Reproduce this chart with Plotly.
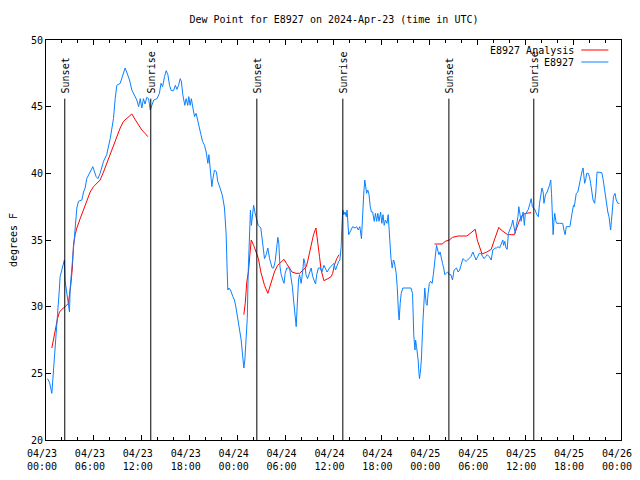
import pandas as pd
import plotly.graph_objects as go

START = pd.Timestamp("2024-04-23 00:00")

# Observed dew point (E8927): hours since start, degrees F
obs_hours = [
    0.19, 0.45, 0.73, 0.94, 1.15, 1.44, 1.65, 1.77, 1.98, 2.19, 2.3, 2.4, 2.6, 2.8, 2.94,
    3.03, 3.23, 3.44, 3.65, 3.86, 4.07, 4.49, 4.7, 4.9, 5.1, 5.5, 5.86, 6.0, 6.28, 6.5,
    6.78, 7.2, 7.6, 8.04, 8.45, 8.66, 8.87, 9.29, 9.62, 9.91, 10.1, 10.46, 10.75, 11.0,
    11.37, 11.6, 11.8, 12.0, 12.2, 12.4, 12.62, 12.85, 13.05, 13.25, 13.5, 13.9, 14.2,
    14.4, 14.6, 14.84, 15.05, 15.26, 15.47, 15.68, 15.97, 16.2, 16.4, 16.6, 16.8, 16.95,
    17.13, 17.38, 17.55, 17.75, 17.88, 18.05, 18.2, 18.4, 18.6, 18.8, 19.0, 19.2, 19.4,
    19.6, 19.85, 20.06, 20.27, 20.4, 20.5, 20.77, 20.9, 21.1, 21.35, 21.5, 21.8, 22.1,
    22.35, 22.56, 22.69, 22.77, 22.9, 23.1, 23.4, 23.6, 23.8, 24.0, 24.2, 24.44, 24.65,
    24.77, 24.9, 25.07, 25.2, 25.32, 25.48, 25.6, 25.72, 25.9, 26.0, 26.15, 26.3, 26.57,
    26.9, 27.15, 27.36, 27.57, 27.78, 28.0, 28.32, 28.5, 28.7, 29.03, 29.15, 29.3, 29.45,
    29.65, 29.8, 29.95, 30.15, 30.5, 30.7, 30.85, 31.0, 31.12, 31.24, 31.33, 31.45, 31.62,
    31.75, 31.95, 32.16, 32.28, 32.42, 32.55, 32.75, 33.0, 33.2, 33.4, 33.6, 33.75, 33.9,
    34.1, 34.35, 34.55, 34.8, 34.95, 35.2, 35.5, 35.8, 36.05, 36.25, 36.45, 36.65, 36.8,
    36.96, 37.05, 37.17, 37.3, 37.45, 37.6, 37.7, 37.9, 38.15, 38.4, 38.7, 38.9, 39.1,
    39.3, 39.5, 39.6, 39.67, 39.8, 39.92, 40.05, 40.15, 40.3, 40.45, 40.6, 40.75, 40.9,
    41.1, 41.25, 41.4, 41.55, 41.7, 41.9, 42.05, 42.2, 42.35, 42.5, 42.7, 42.85, 42.95,
    43.05, 43.2, 43.35, 43.5, 43.6, 43.85, 43.98, 44.14, 44.22, 44.35, 44.48, 44.68, 45.3,
    45.7, 45.9, 46.05, 46.2, 46.28, 46.4, 46.6, 46.7, 46.77, 46.9, 47.0, 47.2, 47.3, 47.43,
    47.6, 47.72, 47.85, 48.0, 48.15, 48.35, 48.5, 48.65, 48.8, 48.9, 49.05, 49.2, 49.35,
    49.5, 49.65, 49.8, 49.93, 50.1, 50.3, 50.5, 50.7, 50.9, 51.1, 51.4, 51.6, 51.8, 52.0,
    52.2, 52.4, 52.6, 52.8, 52.95, 53.2, 53.45, 53.65, 53.85, 54.05, 54.25, 54.45, 54.65,
    54.85, 55.05, 55.25, 55.5, 55.75, 55.95, 56.2, 56.4, 56.6, 56.8, 57.0, 57.2, 57.3,
    57.45, 57.6, 57.75, 57.9, 58.1, 58.3, 58.45, 58.6, 58.75, 58.9, 59.1, 59.2, 59.35,
    59.5, 59.6, 59.75, 59.9, 60.0, 60.2, 60.4, 60.6, 60.75, 60.9, 61.05, 61.25, 61.45,
    61.65, 61.8, 61.95, 62.1, 62.25, 62.35, 62.55, 62.75, 63.05, 63.2, 63.3, 63.4, 63.5,
    63.6, 63.7, 63.85, 63.95, 64.3, 64.7, 64.85, 65.0, 65.15, 65.4, 65.6, 65.9, 66.05,
    66.15, 66.25, 66.4, 66.6, 66.8, 67.0, 67.1, 67.25, 67.35, 67.45, 67.6, 67.7, 67.9,
    68.05, 68.2, 68.4, 68.5, 68.7, 68.85, 69.0, 69.3, 69.6, 69.75, 69.9, 70.0, 70.15,
    70.35, 70.5, 70.7, 70.8, 70.95, 71.06, 71.25, 71.4, 71.6, 71.8,
]
obs_dewpoint = [
    24.6, 24.3, 23.5, 25.5, 27.1, 29.4, 31.1, 32.25, 32.75, 33.4, 33.5, 31.9, 30.9, 30.25, 29.6,
    31.4, 32.9, 34.6, 35.9, 37.4, 37.9, 38.0, 38.6, 38.9, 39.6, 40.1, 40.5, 40.25, 39.75, 39.6,
    40.0, 40.9, 41.4, 42.6, 44.1, 45.6, 46.6, 46.75, 47.4, 47.9, 47.6, 47.0, 46.25, 45.9,
    45.5, 45.0, 45.6, 44.9, 45.6, 45.2, 45.7, 45.6, 44.75, 45.1, 45.5, 45.6, 46.0,
    46.75, 46.5, 47.25, 47.7, 47.4, 46.6, 46.2, 46.2, 46.6, 46.3, 46.6, 47.1, 46.9,
    45.9, 45.1, 45.6, 45.1, 45.75, 45.1, 45.6, 44.9, 44.25, 44.5, 43.9, 43.4, 42.9,
    42.4, 42.1, 41.6, 40.75, 41.4, 40.6, 39.0, 39.6, 40.25, 40.1, 39.4, 38.9, 38.3,
    37.4, 35.4, 32.6, 31.25, 31.4, 31.25, 30.75, 30.5, 29.9, 29.0, 28.4, 27.5, 26.1,
    25.4, 26.0, 27.5, 29.1, 32.6, 35.9, 37.25, 36.1, 37.1, 37.6, 37.1, 36.75, 36.1,
    35.9, 34.6, 33.6, 33.9, 34.4, 33.6, 32.9, 32.9, 33.4, 35.2, 34.75, 33.0, 32.4,
    32.0, 31.75, 32.5, 32.9, 32.9, 32.25, 31.5, 30.5, 29.75, 29.0, 28.5, 30.0, 32.0,
    32.4, 31.75, 32.75, 33.6, 33.25, 32.4, 32.1, 32.5, 32.9, 32.25, 32.0, 31.7, 32.4,
    32.9, 32.9, 32.6, 33.1, 32.9, 32.6, 32.9, 33.1, 33.25, 32.75, 33.1, 33.4, 33.5,
    34.5, 36.0, 37.25, 36.9, 37.1, 36.75, 37.25, 35.4, 35.75, 36.0, 35.9, 36.0, 35.75,
    36.0, 35.1, 36.25, 37.75, 38.6, 39.5, 39.0, 38.5, 38.75, 38.4, 37.5, 37.1, 37.1,
    36.4, 37.0, 36.4, 37.0, 36.4, 37.1, 36.25, 36.9, 36.1, 36.5, 36.25, 36.9, 36.25,
    35.0, 33.6, 32.9, 33.5, 33.4, 32.5, 31.5, 29.5, 29.0, 30.25, 31.0, 31.4, 31.4,
    31.4, 31.0, 27.9, 26.75, 27.5, 27.0, 26.0, 25.0, 24.6, 25.25, 26.0, 28.9, 30.25, 31.4,
    30.25, 30.1, 31.0, 31.75, 31.9, 31.75, 32.4, 33.25, 34.0, 34.6, 34.25, 33.9, 34.1,
    33.5, 33.25, 32.9, 32.4, 32.5, 32.6, 32.4, 32.4, 32.0, 32.75, 32.9, 32.6, 32.75, 33.1,
    33.6, 33.5, 33.4, 33.5, 33.6, 33.75, 34.1, 33.75, 33.5, 33.75, 34.0, 34.0, 33.75,
    33.6, 33.75, 33.9, 33.75, 33.5, 34.25, 34.4, 34.4, 34.5, 34.4, 34.75, 35.0, 34.6,
    34.9, 34.4, 34.3, 35.5, 35.75, 36.1, 36.5, 35.9, 35.5, 36.1, 36.75, 37.5, 36.9,
    36.4, 36.75, 37.1, 36.1, 36.9, 37.1, 37.3, 37.75, 38.1, 37.5, 37.4, 37.25, 36.9,
    36.75, 37.75, 38.25, 38.9, 38.6, 37.75, 38.4, 38.6, 39.1, 39.5, 38.5, 37.4, 35.4,
    36.4, 37.0, 36.4, 36.25, 36.25, 36.25, 35.75, 35.4, 36.0, 36.0, 36.0, 37.1, 37.6,
    37.5, 38.0, 38.5, 38.6, 39.25, 39.75, 40.1, 40.4, 39.9, 39.25, 39.6, 40.0, 40.0,
    39.75, 39.25, 38.6, 38.0, 37.75, 38.6, 40.1, 40.1, 40.05, 39.6, 38.9, 38.4, 37.75,
    37.1, 36.75, 35.75, 36.4, 37.5, 38.25, 38.5, 38.0, 37.75, 37.75,
]

# Analysis dew point (E8927 Analysis): three separate runs
ana1_hours = [0.73, 1.15, 1.44, 1.69, 1.98, 2.4, 2.8, 2.94, 3.1, 3.3, 3.44, 3.65, 3.86, 4.28,
              4.7, 5.1, 5.53, 5.95, 6.36, 6.78, 7.2, 7.6, 8.04, 8.45, 8.87, 9.29, 9.7, 10.1,
              10.4, 10.75, 11.2, 11.6, 12.0, 12.4, 12.75]
ana1_dewpoint = [26.9, 28.4, 29.1, 29.6, 29.8, 30.0, 30.25, 30.9, 31.6, 32.9, 34.6, 35.4, 35.9,
                 36.6, 37.25, 37.9, 38.6, 39.0, 39.25, 39.5, 40.1, 40.75, 41.4, 42.1, 42.75,
                 43.4, 43.9, 44.1, 44.3, 44.45, 44.0, 43.6, 43.25, 43.0, 42.75]
ana2_hours = [24.77, 24.95, 25.15, 25.35, 25.53, 25.7, 26.0, 26.3, 26.6, 26.9, 27.36, 27.78,
              28.2, 28.6, 29.0, 29.45, 29.8, 30.1, 30.5, 30.8, 31.3, 31.75, 32.2, 32.6, 32.8,
              33.0, 33.2, 33.5, 33.8, 34.05, 34.25, 34.45, 34.8, 35.3, 35.7, 35.9, 36.1,
              36.4, 36.7]
ana2_dewpoint = [29.4, 30.25, 31.9, 32.6, 33.9, 35.0, 34.6, 34.1, 33.6, 32.6, 31.6, 31.0, 31.9,
                 32.6, 33.1, 33.4, 33.55, 33.25, 32.9, 32.6, 32.5, 32.5, 32.75, 33.0, 33.5,
                 34.1, 34.75, 35.4, 35.9, 34.9, 33.75, 32.75, 31.95, 32.1, 32.25, 32.5,
                 33.1, 33.6, 33.9]
ana3_hours = [48.65, 49.6, 50.0, 50.5, 50.9, 51.6, 52.7, 53.2, 53.75, 54.0, 54.3, 54.6, 55.2,
              55.75, 56.2, 56.7, 57.0, 57.4, 57.8, 58.25, 58.66, 58.85, 59.1, 59.3, 59.7,
              60.1, 60.75]
ana3_dewpoint = [34.7, 34.7, 34.9, 35.0, 35.2, 35.3, 35.3, 35.55, 35.8, 35.0, 34.4, 33.95,
                 34.1, 34.3, 35.1, 35.95, 35.75, 35.6, 35.4, 35.4, 35.4, 35.75, 36.1, 36.5,
                 36.9, 37.0, 37.05]

sunset_hours = [2.35, 26.4, 50.45]
sunrise_hours = [13.12, 37.17, 61.08]

y_ticks = [20, 25, 30, 35, 40, 45, 50]
marker_top = 45.6

FONT = "DejaVu Sans Mono"
RED = "#ff0000"
BLUE = "#0a80ff"

# the page body has an 8px default margin; size the figure to compensate
FIG_W, FIG_H = 632, 464


def to_time(hours):
    return [START + pd.Timedelta(hours=h) if h is not None else None for h in hours]


ana_hours = ana1_hours + [None] + ana2_hours + [None] + ana3_hours
ana_dewpoint = ana1_dewpoint + [None] + ana2_dewpoint + [None] + ana3_dewpoint

fig = go.Figure()
fig.add_trace(go.Scatter(x=to_time(ana_hours), y=ana_dewpoint, mode="lines",
                         line=dict(color=RED, width=1), name="E8927 Analysis",
                         connectgaps=False, showlegend=False))
fig.add_trace(go.Scatter(x=to_time(obs_hours), y=obs_dewpoint, mode="lines",
                         line=dict(color=BLUE, width=1), name="E8927", showlegend=False))

events = [(h, "Sunset") for h in sunset_hours] + [(h, "Sunrise") for h in sunrise_hours]
for h, label in events:
    t = START + pd.Timedelta(hours=h)
    fig.add_shape(type="line", xref="x", yref="y", x0=t, x1=t, y0=20, y1=marker_top,
                  line=dict(color="black", width=1))
    fig.add_annotation(x=t, y=marker_top, xref="x", yref="y", text=label, textangle=-90,
                       showarrow=False, xanchor="center", yanchor="bottom", yshift=3, xshift=1,
                       font=dict(family=FONT, size=10, color="black"))

# legend (text on the left, line sample on the right, as in the reference)
legend_rows = [("E8927 Analysis", RED, 0.975), ("E8927", BLUE, 0.945)]
for text, color, yp in legend_rows:
    fig.add_annotation(x=0.921, y=yp, xref="paper", yref="paper", text=text, showarrow=False,
                       xanchor="right", yanchor="middle",
                       font=dict(family=FONT, size=10, color="black"))
    fig.add_shape(type="line", xref="paper", yref="paper", x0=0.931, x1=0.978, y0=yp, y1=yp,
                  line=dict(color=color, width=1))

fig.update_layout(
    width=FIG_W, height=FIG_H,
    margin=dict(l=38, r=19, t=32, b=32, autoexpand=False),
    paper_bgcolor="white", plot_bgcolor="white",
    font=dict(family=FONT, size=10, color="black"),
    title=dict(text="Dew Point for E8927 on 2024-Apr-23 (time in UTC)", x=(334 - 8) / FIG_W,
               xanchor="center", y=1 - 11 / FIG_H, yanchor="middle",
               font=dict(family=FONT, size=10, color="black")),
    showlegend=False,
)
fig.update_xaxes(
    type="date", automargin=False,
    range=[START, START + pd.Timedelta(hours=72)],
    tick0=START, dtick=6 * 3600 * 1000, tickformat="%m/%d<br>%H:%M",
    ticks="inside", ticklen=5, tickcolor="black", mirror="ticks",
    ticklabelstandoff=4, ticklabelshift=-4, ticklabeloverflow="allow",
    showline=True, linecolor="black", linewidth=1, showgrid=False, zeroline=False,
    minor=dict(dtick=2 * 3600 * 1000, ticks="inside", ticklen=3, tickcolor="black", showgrid=False),
    tickfont=dict(family=FONT, size=10),
)
fig.update_yaxes(
    range=[20, 50], tickvals=y_ticks, ticktext=[str(v) for v in y_ticks], automargin=False,
    ticks="inside", ticklen=5, tickcolor="black", mirror="ticks",
    showline=True, linecolor="black", linewidth=1, showgrid=False, zeroline=False,
    tickfont=dict(family=FONT, size=10),
    title=dict(text="degrees F", standoff=20, font=dict(family=FONT, size=10)),
)

fig.write_html("out.html")
